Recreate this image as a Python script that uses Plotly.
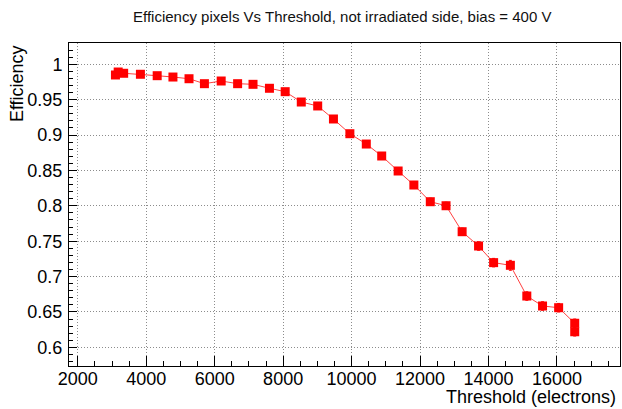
import plotly.graph_objects as go

# Pixel efficiency scan vs. threshold (not irradiated side, 400 V bias)
threshold = [3100, 3180, 3340, 3830, 4320, 4780, 5250, 5700, 6190, 6670,
             7120, 7600, 8060, 8530, 9010, 9470, 9950, 10430, 10880, 11360,
             11820, 12300, 12760, 13230, 13710, 14150, 14640, 15120, 15580,
             16050, 16520, 16520]
efficiency = [0.9849, 0.9891, 0.9873, 0.9859, 0.9839, 0.9820, 0.9796, 0.9726,
              0.9764, 0.9726, 0.9717, 0.9661, 0.9613, 0.9467, 0.9411, 0.9227,
              0.9019, 0.8873, 0.8704, 0.8492, 0.8294, 0.8058, 0.8001, 0.7634,
              0.7432, 0.7197, 0.7159, 0.6725, 0.6584, 0.6560, 0.6340, 0.6220]
efficiency_err = [0.003, 0.003, 0.003, 0.003, 0.003, 0.003, 0.003, 0.003,
                  0.003, 0.003, 0.003, 0.003, 0.003, 0.004, 0.004, 0.004,
                  0.004, 0.004, 0.004, 0.004, 0.005, 0.005, 0.005, 0.005,
                  0.006, 0.006, 0.007, 0.006, 0.006, 0.006, 0.006, 0.006]

x_ticks = [2000, 4000, 6000, 8000, 10000, 12000, 14000, 16000]
y_ticks = [0.6, 0.65, 0.7, 0.75, 0.8, 0.85, 0.9, 0.95, 1.0]
y_tick_labels = ["0.6", "0.65", "0.7", "0.75", "0.8", "0.85", "0.9", "0.95", "1"]

FONT = "Liberation Sans, Arial, Helvetica, sans-serif"

fig = go.Figure()
fig.add_trace(go.Scatter(
    x=threshold, y=efficiency,
    mode="lines+markers",
    line=dict(color="rgba(255,0,0,0.75)", width=1),
    marker=dict(symbol="square", size=9, color="#ff0000"),
    error_y=dict(type="data", array=efficiency_err, color="#ff0000",
                 thickness=1, width=1.5),
    showlegend=False,
))

W, H = 622, 409
L, R, T, B = 68.5, 1.5, 43, 43
plot_w = W - L - R
plot_h = H - T - B

axis_common = dict(
    showline=True, linecolor="black", linewidth=1, mirror=True,
    ticks="inside", tickcolor="black", tickwidth=1,
    showgrid=True, gridcolor="#8c8c8c", griddash="1px,2px", gridwidth=1,
    zeroline=False,
    tickfont=dict(family=FONT, size=18, color="black"),
)

fig.update_xaxes(
    range=[1743, 17843],
    tickvals=x_ticks,
    ticktext=[str(v) for v in x_ticks],
    ticklen=10,
    minor=dict(dtick=500, tick0=0, ticks="inside", ticklen=5,
               tickcolor="black", showgrid=False),
    ticklabelstandoff=-4,
    **axis_common,
)
fig.update_yaxes(
    range=[0.5736, 1.0301],
    tickvals=y_ticks,
    ticktext=y_tick_labels,
    ticklen=8,
    minor=dict(dtick=0.01, tick0=0, ticks="inside", ticklen=4,
               tickcolor="black", showgrid=False),
    ticklabelstandoff=2,
    **axis_common,
)

fig.update_layout(
    width=W, height=H,
    margin=dict(l=L, r=R, t=T, b=B, pad=0),
    paper_bgcolor="white", plot_bgcolor="white",
    font=dict(family=FONT, color="black"),
    annotations=[
        dict(text="Efficiency pixels Vs Threshold, not irradiated side, bias = 400 V",
             xref="paper", yref="paper",
             x=(342 - L) / plot_w, y=1 + (T - 17) / plot_h,
             xanchor="center", yanchor="middle", showarrow=False,
             font=dict(family=FONT, size=15, color="#111111")),
        dict(text="Threshold (electrons)",
             xref="paper", yref="paper",
             x=(618 - L) / plot_w, y=-(397 - (H - B)) / plot_h,
             xanchor="right", yanchor="middle", showarrow=False,
             font=dict(family=FONT, size=18, color="black")),
        dict(text="Efficiency",
             xref="paper", yref="paper",
             x=(16 - L) / plot_w, y=1,
             xanchor="center", yanchor="top", textangle=-90, showarrow=False,
             font=dict(family=FONT, size=18, color="black")),
    ],
)

fig.write_html("out.html")
